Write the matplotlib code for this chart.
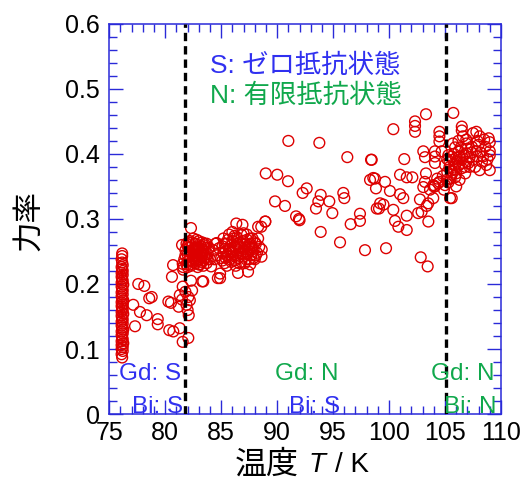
import numpy as np
import matplotlib.pyplot as plt
from matplotlib.ticker import MultipleLocator

# 76 K column (dense)
t_col = [76.15, 76.1, 76.2, 76.1, 76.2, 76.1, 76.25, 76.1, 76.2, 76.15,
         76.1, 76.2, 76.1, 76.25, 76.15, 76.1, 76.2, 76.1, 76.2, 76.15,
         76.1, 76.25, 76.1, 76.2, 76.15, 76.1, 76.2, 76.1, 76.25, 76.15,
         76.1, 76.2, 76.1, 76.2, 76.15, 76.1, 76.25, 76.1, 76.2, 76.15,
         76.1, 76.2, 76.1, 76.2, 76.15, 76.1, 76.2, 76.15, 76.1, 76.15, 76.15]
pf_col = [0.087, 0.092, 0.097, 0.100, 0.103, 0.106, 0.109, 0.112, 0.115, 0.118,
          0.121, 0.124, 0.127, 0.130, 0.133, 0.136, 0.139, 0.142, 0.145, 0.148,
          0.151, 0.154, 0.157, 0.160, 0.163, 0.166, 0.169, 0.172, 0.175, 0.178,
          0.181, 0.184, 0.187, 0.190, 0.193, 0.196, 0.199, 0.202, 0.205, 0.208,
          0.211, 0.214, 0.217, 0.220, 0.223, 0.226, 0.229, 0.233, 0.238, 0.243, 0.247]

# 77-82 K, superconducting transition region
low_pts = [(77.59, 0.200), (78.13, 0.197), (78.57, 0.178), (78.79, 0.180), (77.14, 0.168),
           (77.74, 0.157), (78.34, 0.152), (77.30, 0.135), (79.33, 0.146), (79.33, 0.138),
           (80.7, 0.229), (81.56, 0.231), (80.6, 0.211), (81.56, 0.196), (80.28, 0.173),
           (80.51, 0.171), (81.3, 0.183), (82.06, 0.180), (82.0, 0.160), (81.3, 0.132),
           (82.06, 0.117), (81.56, 0.111), (80.72, 0.127), (80.36, 0.129), (81.6, 0.222),
           (82.2, 0.175), (81.8, 0.188), (82.4, 0.190), (82.3, 0.205), (81.9, 0.168),
           (82.1, 0.152), (81.2, 0.165), (83.3, 0.204), (81.5, 0.176)]

# 82-84 K cluster
cluster1 = [(81.7, 0.238), (81.8, 0.252), (81.9, 0.262), (81.9, 0.230), (82.0, 0.245),
            (82.1, 0.256), (82.1, 0.236), (82.2, 0.266), (82.3, 0.248), (82.3, 0.228),
            (82.4, 0.258), (82.5, 0.240), (82.5, 0.270), (82.6, 0.250), (82.7, 0.232),
            (82.7, 0.262), (82.8, 0.244), (82.9, 0.254), (82.9, 0.226), (83.0, 0.238),
            (83.0, 0.266), (83.1, 0.248), (83.2, 0.258), (83.2, 0.234), (83.3, 0.244),
            (83.4, 0.252), (83.4, 0.228), (83.5, 0.262), (83.6, 0.240), (83.6, 0.250),
            (83.7, 0.232), (83.8, 0.246), (83.9, 0.256), (84.0, 0.238), (82.4, 0.236),
            (82.6, 0.255), (82.8, 0.268), (83.1, 0.230), (82.2, 0.250), (83.3, 0.264),
            (82.0, 0.226), (83.5, 0.244), (82.3, 0.286), (83.4, 0.204), (84.1, 0.227),
            (81.5, 0.260), (81.6, 0.226), (84.3, 0.252), (84.5, 0.262), (84.6, 0.244),
            (84.8, 0.255), (84.4, 0.238), (84.9, 0.216), (84.9, 0.209), (84.7, 0.209),
            (81.8, 0.244), (82.0, 0.234), (82.0, 0.258), (82.2, 0.242), (82.2, 0.230),
            (82.4, 0.246), (82.4, 0.264), (82.6, 0.238), (82.6, 0.244), (82.8, 0.236),
            (82.8, 0.252), (83.0, 0.246), (83.0, 0.256), (83.2, 0.242), (83.2, 0.250),
            (83.4, 0.236), (83.4, 0.260), (83.6, 0.256), (83.8, 0.238), (83.0, 0.230),
            (82.5, 0.252), (82.9, 0.240), (83.3, 0.254), (82.1, 0.264), (83.7, 0.262)]

# 85-88.5 K cluster
cluster2 = [(85.0, 0.240), (85.1, 0.258), (85.2, 0.270), (85.3, 0.232), (85.4, 0.250),
            (85.5, 0.262), (85.6, 0.242), (85.7, 0.276), (85.8, 0.254), (85.9, 0.234),
            (86.0, 0.266), (86.1, 0.246), (86.2, 0.258), (86.3, 0.228), (86.4, 0.272),
            (86.5, 0.240), (86.6, 0.252), (86.7, 0.264), (86.8, 0.234), (86.9, 0.246),
            (87.0, 0.278), (87.1, 0.256), (87.2, 0.238), (87.3, 0.268), (87.4, 0.248),
            (87.5, 0.260), (87.6, 0.230), (87.7, 0.244), (87.8, 0.270), (87.9, 0.254),
            (88.0, 0.238), (88.1, 0.262), (88.2, 0.248), (85.5, 0.228), (86.0, 0.280),
            (86.8, 0.256), (87.2, 0.250), (85.9, 0.250), (86.4, 0.262), (87.6, 0.262),
            (86.2, 0.236), (85.2, 0.248), (87.0, 0.242), (88.3, 0.270), (88.4, 0.257),
            (88.6, 0.242), (86.35, 0.293), (86.9, 0.291), (88.94, 0.296), (88.3, 0.288),
            (86.5, 0.217), (87.4, 0.219), (84.6, 0.263),
            (85.1, 0.236), (85.3, 0.262), (85.5, 0.244), (85.7, 0.254), (85.8, 0.238),
            (86.0, 0.248), (86.1, 0.270), (86.3, 0.256), (86.3, 0.244), (86.5, 0.262),
            (86.6, 0.232), (86.7, 0.246), (86.9, 0.266), (87.0, 0.254), (87.1, 0.232),
            (87.3, 0.246), (87.4, 0.258), (87.5, 0.238), (87.6, 0.270), (87.8, 0.250),
            (87.9, 0.240), (88.0, 0.264), (86.2, 0.274), (86.8, 0.276), (87.3, 0.276),
            (85.6, 0.268), (85.4, 0.240), (86.6, 0.258), (87.7, 0.256), (88.1, 0.244)]

# 88-104 K, scattered normal-state points
mid_pts = [(91.0, 0.420), (93.77, 0.417), (96.27, 0.395), (98.39, 0.391), (88.98, 0.370),
           (90.01, 0.368), (90.97, 0.358), (92.64, 0.347), (92.28, 0.340), (93.89, 0.337),
           (93.68, 0.327), (94.66, 0.327), (95.91, 0.340), (96.0, 0.332), (93.47, 0.316),
           (94.93, 0.309), (89.81, 0.327), (90.70, 0.320), (91.69, 0.304), (91.95, 0.300),
           (88.94, 0.296), (88.58, 0.288), (93.89, 0.280), (96.57, 0.292), (97.40, 0.297),
           (97.40, 0.308), (95.62, 0.264), (97.85, 0.252), (88.62, 0.253), (98.59, 0.363),
           (98.3, 0.360), (98.83, 0.347), (98.9, 0.316), (99.2, 0.324), (103.30, 0.461),
           (102.32, 0.450), (102.32, 0.443), (102.32, 0.434), (100.38, 0.438), (103.06, 0.404),
           (103.21, 0.395), (101.36, 0.392), (104.1, 0.404), (98.45, 0.391), (103.3, 0.370),
           (100.98, 0.368), (101.58, 0.364), (102.08, 0.364), (98.74, 0.362), (99.64, 0.357),
           (100.08, 0.343), (100.98, 0.338), (101.27, 0.332), (103.06, 0.349), (103.95, 0.352),
           (103.66, 0.345), (103.95, 0.332), (102.76, 0.330), (103.36, 0.320), (102.91, 0.311),
           (102.6, 0.309), (99.50, 0.322), (99.1, 0.316), (100.38, 0.314), (101.58, 0.305),
           (100.53, 0.297), (100.83, 0.288), (101.58, 0.283), (103.51, 0.296), (99.73, 0.255),
           (102.83, 0.241), (103.45, 0.227), (92.0, 0.298), (103.5, 0.324), (104.0, 0.350),
           (104.4, 0.355), (103.2, 0.357)]

# 104-109 K cluster
cluster3 = [(105.74, 0.463), (104.5, 0.434), (104.5, 0.427), (104.5, 0.419), (104.7, 0.404),
            (104.1, 0.396), (104.1, 0.386), (106.5, 0.442), (106.5, 0.436), (105.7, 0.416),
            (105.9, 0.410), (106.6, 0.427), (106.9, 0.422), (107.5, 0.432), (107.8, 0.434),
            (108.1, 0.427), (108.5, 0.422), (108.9, 0.424), (109.0, 0.418), (109.0, 0.404),
            (109.0, 0.398), (109.0, 0.375), (108.1, 0.375), (107.5, 0.391), (107.2, 0.380),
            (107.8, 0.404), (106.9, 0.401), (106.3, 0.396), (105.7, 0.391), (105.4, 0.380),
            (106.0, 0.370), (106.5, 0.378), (106.3, 0.360), (105.6, 0.368), (105.15, 0.360),
            (105.3, 0.356), (104.5, 0.357), (104.1, 0.350), (105.6, 0.332), (106.9, 0.416),
            (106.2, 0.404), (105.3, 0.398), (105.0, 0.383), (105.9, 0.383), (106.9, 0.388),
            (107.7, 0.380), (108.4, 0.396), (108.6, 0.411), (108.0, 0.414), (107.4, 0.411),
            (106.6, 0.386), (108.7, 0.383), (106.8, 0.370), (105.45, 0.332), (105.2, 0.392),
            (105.8, 0.400), (106.1, 0.388), (105.5, 0.374), (104.8, 0.366), (104.3, 0.362),
            (104.9, 0.345), (105.0, 0.352), (106.0, 0.350), (107.2, 0.395), (108.3, 0.388),
            (105.4, 0.388), (105.8, 0.376), (106.2, 0.382), (106.4, 0.392), (106.7, 0.398),
            (105.6, 0.396), (106.0, 0.394), (106.8, 0.380), (107.1, 0.386), (107.4, 0.402),
            (107.0, 0.408), (106.4, 0.410), (105.5, 0.362), (105.9, 0.364), (107.9, 0.396),
            (108.2, 0.402), (108.8, 0.392), (107.9, 0.420), (106.2, 0.420), (105.2, 0.372)]

t_c1 = 81.8    # Gd transition
t_c2 = 105.1   # Bi transition

groups = (low_pts, cluster1, cluster2, mid_pts, cluster3)
temperature = np.concatenate([t_col] + [[p[0] for p in g] for g in groups])
power_factor = np.concatenate([pf_col] + [[p[1] for p in g] for g in groups])

BLUE = '#3030f0'
GREEN = '#10a84c'
AXBLUE = '#2a2ad8'
FONTS = ['Liberation Sans', 'Noto Sans CJK JP']

plt.rcParams['font.family'] = FONTS

fig = plt.figure(figsize=(5.29, 4.86), dpi=100)
ax = fig.add_axes([0.2066, 0.148, 0.7404, 0.803])

ax.scatter(temperature, power_factor, s=60, facecolors='none', edgecolors='#dd0000', linewidths=1.0, zorder=3)

for tc in (t_c1, t_c2):
    ax.axvline(tc, color='black', lw=2.4, linestyle=(0, (2.5, 1.5)), zorder=4)

ax.set_xlim(75, 110)
ax.set_ylim(0, 0.6)
ax.xaxis.set_major_locator(MultipleLocator(5))
ax.xaxis.set_minor_locator(MultipleLocator(1))
ax.yaxis.set_major_locator(MultipleLocator(0.1))
ax.yaxis.set_minor_locator(MultipleLocator(0.02))
ax.set_yticks([0, 0.1, 0.2, 0.3, 0.4, 0.5, 0.6])
ax.set_yticklabels(['0', '0.1', '0.2', '0.3', '0.4', '0.5', '0.6'])

for s in ax.spines.values():
    s.set_color(AXBLUE)
    s.set_linewidth(1.1)
ax.tick_params(which='both', direction='in', top=True, right=True, color=AXBLUE, width=1.0, labelsize=18)
ax.tick_params(which='major', length=10)
ax.tick_params(which='minor', length=5.5)
ax.tick_params(axis='x', pad=5)
ax.tick_params(axis='y', pad=7)

ax.text(84.0, 0.524, 'S: ゼロ抵抗状態', color=BLUE, fontsize=19, family=FONTS, va='baseline')
ax.text(84.0, 0.478, 'N: 有限抵抗状態', color=GREEN, fontsize=19, family=FONTS, va='baseline')

ax.text(78.65, 0.052, 'Gd: S', color=BLUE, fontsize=17.5, ha='center', va='baseline', zorder=5)
ax.text(79.3, 0.001, 'Bi: S', color=BLUE, fontsize=17.5, ha='center', va='baseline', zorder=5)
ax.text(92.63, 0.052, 'Gd: N', color=GREEN, fontsize=17.5, ha='center', va='baseline', zorder=5)
ax.text(93.3, 0.001, 'Bi: S', color=BLUE, fontsize=17.5, ha='center', va='baseline', zorder=5)
ax.text(106.6, 0.052, 'Gd: N', color=GREEN, fontsize=17.5, ha='center', va='baseline', zorder=5)
ax.text(107.3, 0.001, 'Bi: N', color=GREEN, fontsize=17.5, ha='center', va='baseline', zorder=5)

fig.text(0.0548, 0.547, '力率', rotation=90, fontsize=22, ha='center', va='center', family=FONTS)
fig.text(0.5047, 0.041, '温度', fontsize=23, ha='center', va='center', family=FONTS)
fig.text(0.584, 0.0288, 'T', fontsize=20, style='italic', ha='left', va='baseline')
fig.text(0.633, 0.0288, '/ K', fontsize=20, ha='left', va='baseline')

fig.savefig('out.png', dpi=100)
